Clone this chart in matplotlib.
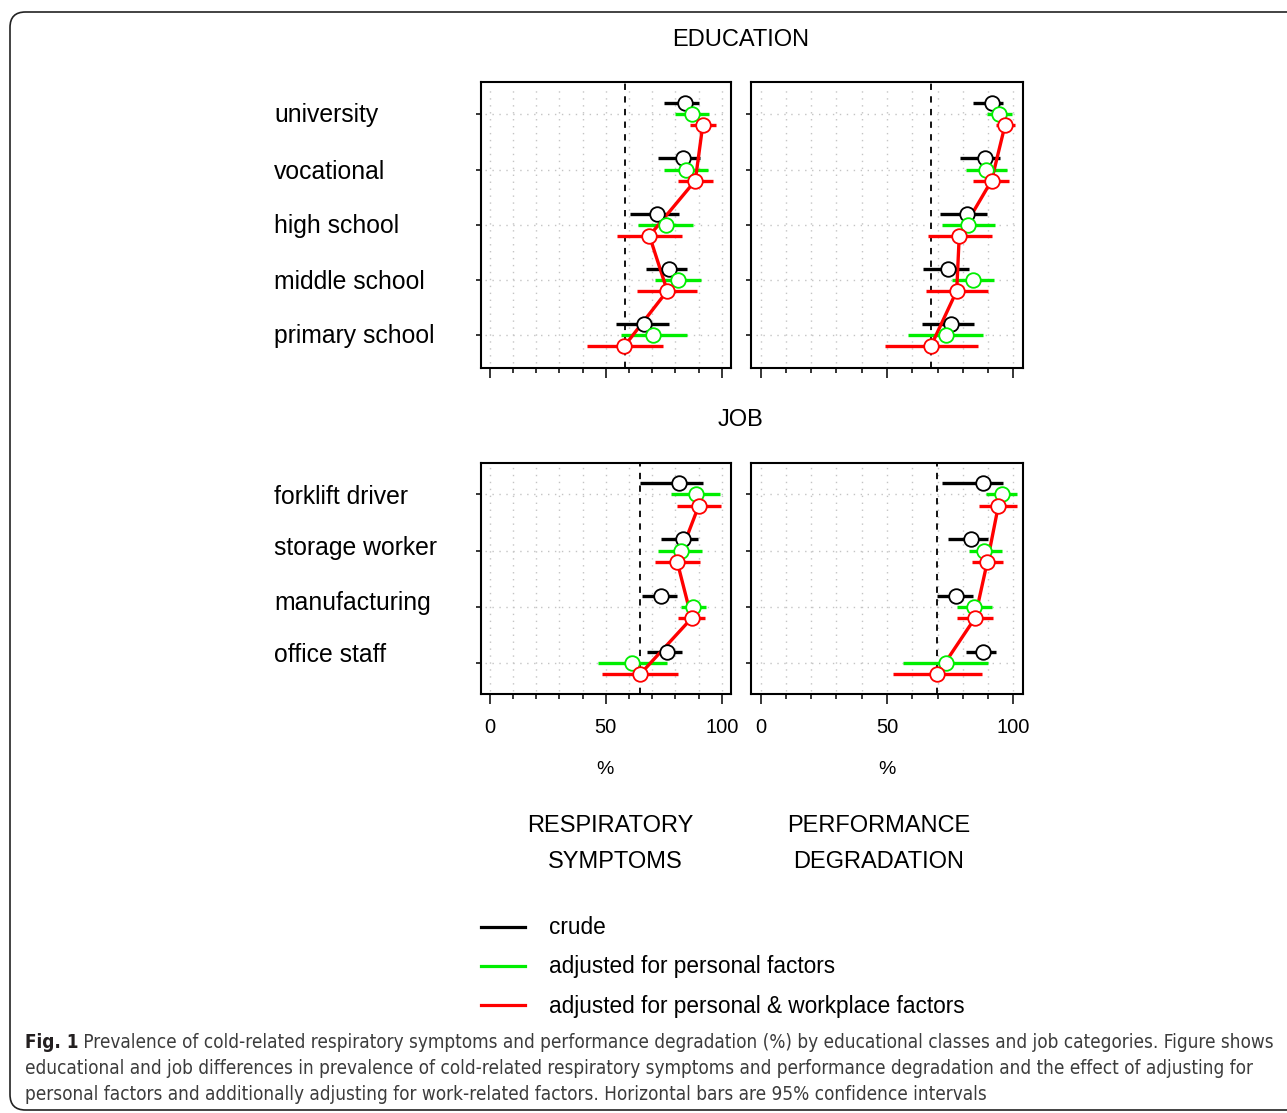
import matplotlib
matplotlib.use("Agg")
import matplotlib.pyplot as plt
from matplotlib import font_manager
from matplotlib.font_manager import FontProperties
from matplotlib.lines import Line2D
from matplotlib.patches import FancyBboxPatch

# ------------------------------------------
# Daten
# ------------------------------------------
edu_cats = ["university", "vocational", "high school", "middle school", "primary school"]
job_cats = ["forklift driver", "storage worker", "manufacturing", "office staff"]

# Respiratory symptoms - education
resp_edu_crude = [84.2, 83.4, 72.2, 77.1, 66.5]
resp_edu_crude_lo = [75.2, 72.4, 60.4, 67.3, 54.4]
resp_edu_crude_hi = [90.3, 90.6, 81.7, 85.2, 77.1]
resp_edu_pers = [87.0, 84.6, 76.0, 81.0, 70.5]
resp_edu_pers_lo = [79.8, 75.1, 64.0, 71.4, 56.4]
resp_edu_pers_hi = [94.5, 94.2, 87.5, 90.9, 84.9]
resp_edu_work = [91.8, 88.6, 68.8, 76.5, 58.0]
resp_edu_work_lo = [86.3, 81.3, 54.7, 63.6, 41.7]
resp_edu_work_hi = [97.4, 96.1, 82.7, 89.5, 74.8]

# Performance degradation - education
perf_edu_crude = [91.4, 88.8, 81.8, 74.3, 75.2]
perf_edu_crude_lo = [84.2, 78.9, 71.0, 64.4, 63.7]
perf_edu_crude_hi = [96.0, 94.7, 89.7, 82.3, 84.6]
perf_edu_pers = [94.5, 89.2, 82.2, 83.9, 73.4]
perf_edu_pers_lo = [89.5, 81.3, 71.9, 75.6, 58.4]
perf_edu_pers_hi = [99.4, 97.6, 92.8, 92.5, 88.1]
perf_edu_work = [96.7, 91.4, 78.6, 77.6, 67.4]
perf_edu_work_lo = [93.2, 84.2, 66.4, 65.3, 49.2]
perf_edu_work_hi = [100.7, 98.2, 91.4, 90.1, 85.9]

# Respiratory symptoms - job
resp_job_crude = [81.7, 83.2, 73.7, 76.2]
resp_job_crude_lo = [64.7, 73.8, 65.7, 67.6]
resp_job_crude_hi = [92.1, 89.9, 80.8, 83.0]
resp_job_pers = [88.9, 82.3, 87.7, 61.4]
resp_job_pers_lo = [78.1, 72.6, 82.3, 46.7]
resp_job_pers_hi = [99.3, 91.6, 93.2, 76.5]
resp_job_work = [90.1, 80.8, 87.0, 64.7]
resp_job_work_lo = [80.6, 71.2, 81.3, 48.2]
resp_job_work_hi = [99.6, 90.6, 92.8, 81.3]

# Performance degradation - job
perf_job_crude = [88.1, 83.3, 77.3, 88.1]
perf_job_crude_lo = [71.7, 74.0, 69.7, 81.3]
perf_job_crude_hi = [96.0, 89.9, 84.2, 93.2]
perf_job_pers = [95.4, 88.5, 84.4, 73.2]
perf_job_pers_lo = [89.1, 82.5, 77.8, 56.5]
perf_job_pers_hi = [101.6, 95.4, 91.4, 89.9]
perf_job_work = [94.1, 89.7, 84.8, 69.9]
perf_job_work_lo = [86.6, 83.8, 77.6, 52.5]
perf_job_work_hi = [101.6, 96.0, 92.1, 87.5]

# Referenzlinien (gestrichelt)
ref_lines = {"resp_edu": 58.3, "perf_edu": 67.4, "resp_job": 64.7, "perf_job": 69.9}

tick_vals = [0, 50, 100]
tick_labels = ["0", "50", "100"]

legend_labels = ["crude", "adjusted for personal factors",
                 "adjusted for personal & workplace factors"]

caption_bold = "Fig. 1"
caption_lines = [
    " Prevalence of cold-related respiratory symptoms and performance degradation (%) by educational classes and job categories. Figure shows",
    "educational and job differences in prevalence of cold-related respiratory symptoms and performance degradation and the effect of adjusting for",
    "personal factors and additionally adjusting for work-related factors. Horizontal bars are 95% confidence intervals",
]

# ------------------------------------------
# Stil
# ------------------------------------------
plt.rcParams["font.family"] = ["Liberation Sans", "DejaVu Sans"]
COL_CRUDE = "#000000"
COL_PERS = "#00ee00"
COL_WORK = "#ff0000"
W, H = 1287, 1113

fig = plt.figure(figsize=(W / 100, H / 100), dpi=100)


def fx(px):
    return px / W


def fy(py):
    return 1 - py / H


def make_ax(left, right, top, bottom):
    return fig.add_axes([fx(left), fy(bottom), (right - left) / W, (bottom - top) / H])


def draw_panel(ax, n, est, show_labels, ref):
    ys = list(range(n, 0, -1))
    ax.set_xlim(-4, 104)
    ax.set_ylim(0.6 - 0.04 * (n - 0.2), n + 0.4 + 0.04 * (n - 0.2))

    # Gitter (punktiert)
    for gx in range(0, 101, 10):
        ax.plot([gx, gx], [0.5, n + 0.5], color="#c4c4c4", lw=1.0,
                linestyle=(0, (1, 4)), zorder=0)
    for gy in ys:
        ax.plot([-2, 102], [gy, gy], color="#c4c4c4", lw=1.0,
                linestyle=(0, (1, 4)), zorder=0)

    ax.axvline(ref, color="black", lw=1.3, linestyle=(0, (3.5, 3.5)), zorder=1)

    offsets = [0.2, 0.0, -0.2]
    colors = [COL_CRUDE, COL_PERS, COL_WORK]
    for (m, lo, hi), off, col in zip(est, offsets, colors):
        yy = [y + off for y in ys]
        ax.hlines(yy, lo, hi, color=col, lw=2.4, zorder=2)
        if col == COL_WORK:
            ax.plot(m, yy, color=col, lw=2.4, zorder=3)
        ax.plot(m, yy, "o", ms=10.5, mfc="white", mec=col, mew=1.3,
                linestyle="none", zorder=4)

    for sp in ax.spines.values():
        sp.set_linewidth(1.5)
    ax.set_yticks(ys)
    ax.set_yticklabels([])
    ax.tick_params(axis="y", length=3.5, width=1.1, direction="out")
    ax.set_xticks(tick_vals)
    ax.set_xticks(range(0, 101, 10), minor=True)
    ax.tick_params(axis="x", which="major", length=7, width=1.1, pad=10,
                   labelsize=14.5)
    ax.tick_params(axis="x", which="minor", length=3.5, width=1.1)
    if show_labels:
        ax.set_xticklabels(tick_labels)
    else:
        ax.set_xticklabels([])


ax_tl = make_ax(480.7, 731.0, 81.7, 367.7)
ax_tr = make_ax(750.6, 1023.4, 81.7, 367.7)
ax_bl = make_ax(480.7, 731.0, 463.3, 694.3)
ax_br = make_ax(750.6, 1023.4, 463.3, 694.3)

draw_panel(ax_tl, 5, [(resp_edu_crude, resp_edu_crude_lo, resp_edu_crude_hi),
                      (resp_edu_pers, resp_edu_pers_lo, resp_edu_pers_hi),
                      (resp_edu_work, resp_edu_work_lo, resp_edu_work_hi)],
           False, ref_lines["resp_edu"])
draw_panel(ax_tr, 5, [(perf_edu_crude, perf_edu_crude_lo, perf_edu_crude_hi),
                      (perf_edu_pers, perf_edu_pers_lo, perf_edu_pers_hi),
                      (perf_edu_work, perf_edu_work_lo, perf_edu_work_hi)],
           False, ref_lines["perf_edu"])
draw_panel(ax_bl, 4, [(resp_job_crude, resp_job_crude_lo, resp_job_crude_hi),
                      (resp_job_pers, resp_job_pers_lo, resp_job_pers_hi),
                      (resp_job_work, resp_job_work_lo, resp_job_work_hi)],
           True, ref_lines["resp_job"])
draw_panel(ax_br, 4, [(perf_job_crude, perf_job_crude_lo, perf_job_crude_hi),
                      (perf_job_pers, perf_job_pers_lo, perf_job_pers_hi),
                      (perf_job_work, perf_job_work_lo, perf_job_work_hi)],
           True, ref_lines["perf_job"])

# ------------------------------------------
# Beschriftungen
# ------------------------------------------
fig.text(fx(741), fy(40), "EDUCATION", ha="center", va="center", fontsize=17)
fig.text(fx(741), fy(420), "JOB", ha="center", va="center", fontsize=17)

for lab, py in zip(edu_cats, [115, 172, 226, 282, 336]):
    fig.text(fx(274), fy(py), lab, ha="left", va="center", fontsize=17.8)
for lab, py in zip(job_cats, [497, 548, 603, 655]):
    fig.text(fx(274), fy(py), lab, ha="left", va="center", fontsize=17.8)

fig.text(fx(605), fy(769), "%", ha="center", va="center", fontsize=14)
fig.text(fx(887), fy(769), "%", ha="center", va="center", fontsize=14)

fig.text(fx(610), fy(826), "RESPIRATORY", ha="center", va="center", fontsize=17)
fig.text(fx(615), fy(862), "SYMPTOMS", ha="center", va="center", fontsize=17)
fig.text(fx(879), fy(826), "PERFORMANCE", ha="center", va="center", fontsize=17)
fig.text(fx(879), fy(862), "DEGRADATION", ha="center", va="center", fontsize=17)

# Legende
for lab, col, py in zip(legend_labels, [COL_CRUDE, COL_PERS, COL_WORK], [927, 966, 1005]):
    fig.add_artist(Line2D([fx(481), fx(525)], [fy(py), fy(py)], color=col, lw=2.3,
                          transform=fig.transFigure))
    fig.text(fx(549), fy(py + 1), lab, ha="left", va="center", fontsize=16.3)

# Rahmen
frame = FancyBboxPatch((fx(10), fy(1110)), fx(1320) - fx(10), fy(12) - fy(1110),
                       boxstyle="round,pad=0,rounding_size=0.012",
                       transform=fig.transFigure, fill=False, ec="#222222", lw=1.2,
                       mutation_aspect=W / H)
fig.add_artist(frame)

# ------------------------------------------
# Bildunterschrift (schmale Schrift, auf Breite angepasst)
# ------------------------------------------
def weight_num(w):
    table = {"thin": 100, "extra-light": 200, "light": 300, "normal": 400,
             "regular": 400, "book": 400, "medium": 500, "semibold": 600,
             "demibold": 600, "bold": 700, "extra bold": 800, "heavy": 800,
             "black": 900}
    if isinstance(w, (int, float)):
        return int(w)
    return table.get(str(w).lower(), 400)


def find_narrow(bold):
    cands = []
    for f in font_manager.fontManager.ttflist:
        narrow = ("Narrow" in f.name or "Condensed" in f.name
                  or str(f.stretch) in ("condensed", "semi-condensed", "extra-condensed"))
        if not narrow or f.style != "normal":
            continue
        wn = weight_num(f.weight)
        if bold and wn >= 600:
            cands.append((abs(wn - 700), f.fname))
        if not bold and wn <= 450:
            cands.append((abs(wn - 350), f.fname))
    if cands:
        cands.sort()
        return FontProperties(fname=cands[0][1])
    return FontProperties(family="Liberation Sans", weight="bold" if bold else "normal")


fp_body = find_narrow(False)
fp_bold = find_narrow(True)

renderer = fig.canvas.get_renderer()
base = 13
t_bold = fig.text(fx(25), fy(1042), caption_bold, ha="left", va="center",
                  fontproperties=fp_bold, color="#231f20")
t_first = fig.text(fx(25), fy(1042), caption_lines[0], ha="left", va="center",
                   fontproperties=fp_body, color="#3c3c3c")
t_bold.set_fontsize(base)
t_first.set_fontsize(base)
wb = t_bold.get_window_extent(renderer).width
wf = t_first.get_window_extent(renderer).width
size = base * (1278 - 25) / (wb + wf)
t_bold.set_fontsize(size)
t_first.set_fontsize(size)
wb = t_bold.get_window_extent(renderer).width
t_first.set_x(fx(25 + wb))
for line, py in zip(caption_lines[1:], [1068, 1095]):
    t = fig.text(fx(25), fy(py), line, ha="left", va="center",
                 fontproperties=fp_body, color="#3c3c3c")
    t.set_fontsize(size)

fig.savefig("out.png", dpi=100)
